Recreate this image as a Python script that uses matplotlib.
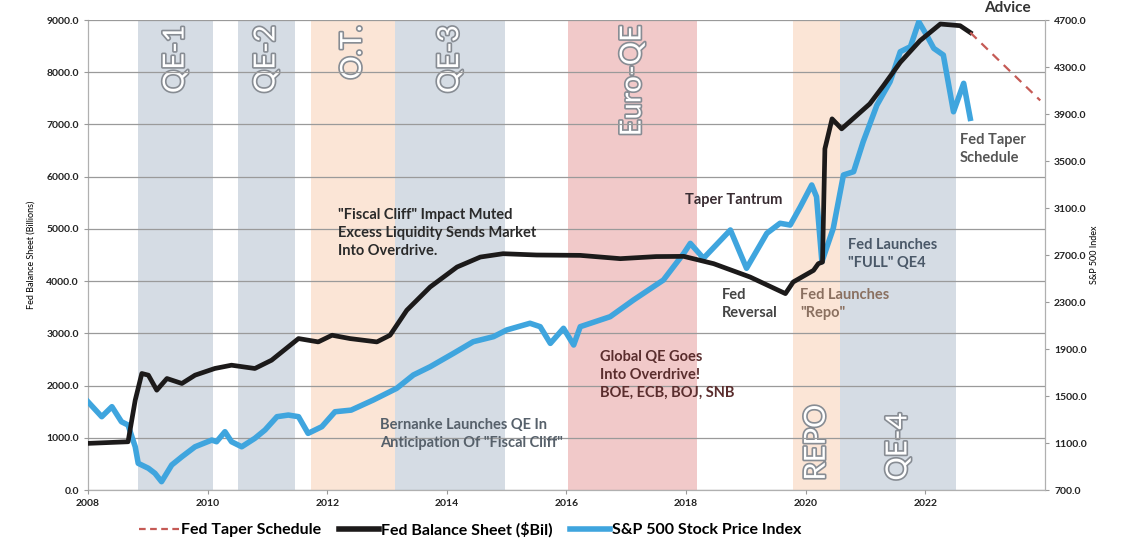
import numpy as np
import matplotlib
matplotlib.use('Agg')
import matplotlib.pyplot as plt
import matplotlib.patheffects as pe
from matplotlib.lines import Line2D

plt.rcParams['font.family'] = ['Lato', 'DejaVu Sans']
plt.rcParams['font.weight'] = 'bold'

# Fed balance sheet ($bil)
fed_year = [2008.0, 2008.67, 2008.79, 2008.90, 2009.01, 2009.15, 2009.32, 2009.57, 2009.79, 2010.12,
            2010.40, 2010.79, 2011.07, 2011.52, 2011.85, 2012.08, 2012.38, 2012.83, 2013.05, 2013.33,
            2013.72, 2014.17, 2014.56, 2014.94, 2015.5, 2016.23, 2016.90, 2017.5, 2017.96, 2018.46,
            2019.07, 2019.66, 2019.79, 2020.13, 2020.21, 2020.28, 2020.32, 2020.44, 2020.60, 2020.85,
            2021.07, 2021.30, 2021.58, 2021.91, 2022.25, 2022.58, 2022.75]
fed_bal = [893, 924, 1721, 2231, 2199, 1912, 2135, 2040, 2199, 2327,
           2390, 2327, 2486, 2900, 2836, 2964, 2900, 2836, 2964, 3442,
           3887, 4270, 4461, 4525, 4500, 4493, 4430, 4470, 4474, 4334,
           4078, 3761, 3983, 4206, 4334, 4365, 6533, 7107, 6916, 7170,
           7394, 7744, 8189, 8604, 8923, 8891, 8760]

# Fed taper schedule (projection)
taper_year = [2022.75, 2023.92]
taper_bal = [8760, 7460]

# S&P 500 index
spx_year = [2008.0, 2008.23, 2008.40, 2008.56, 2008.67, 2008.79, 2008.84, 2009.01, 2009.12, 2009.23,
            2009.40, 2009.57, 2009.79, 2010.07, 2010.15, 2010.29, 2010.40, 2010.57, 2010.79, 2010.96,
            2011.16, 2011.35, 2011.52, 2011.68, 2011.91, 2012.13, 2012.40, 2012.77, 2013.16, 2013.44,
            2013.72, 2014.11, 2014.44, 2014.78, 2015.0, 2015.39, 2015.56, 2015.73, 2015.95, 2016.12,
            2016.23, 2016.73, 2017.12, 2017.62, 2017.96, 2018.07, 2018.29, 2018.74, 2019.01, 2019.35,
            2019.57, 2019.74, 2019.91, 2020.10, 2020.18, 2020.27, 2020.46, 2020.63, 2020.80, 2020.96,
            2021.19, 2021.41, 2021.58, 2021.75, 2021.89, 2022.02, 2022.14, 2022.30, 2022.47, 2022.64,
            2022.75]
spx = [1451, 1324, 1409, 1281, 1253, 1068, 927, 885, 842, 771,
       913, 983, 1068, 1125, 1111, 1196, 1111, 1068, 1140, 1211,
       1324, 1338, 1324, 1182, 1239, 1366, 1380, 1466, 1565, 1679,
       1749, 1863, 1962, 2005, 2062, 2119, 2090, 1948, 2076, 1934,
       2090, 2175, 2317, 2487, 2714, 2799, 2672, 2913, 2587, 2885,
       2970, 2955, 3111, 3296, 3196, 2643, 2927, 3381, 3409, 3664,
       3976, 4175, 4430, 4473, 4685, 4572, 4459, 4402, 3919, 4161,
       3863]

# shaded policy periods
band_names = ['QE-1', 'QE-2', 'O.T.', 'QE-3', 'Euro-QE', 'REPO', 'QE-4']
band_start = [2008.84, 2010.51, 2011.73, 2013.13, 2016.03, 2019.79, 2020.58]
band_end = [2010.09, 2011.46, 2013.13, 2014.98, 2018.18, 2020.58, 2022.52]
band_colors = ['#d5dce4', '#d5dce4', '#fbe5d6', '#d5dce4', '#f1c9c9', '#fbe5d6', '#d5dce4']

fig = plt.figure(figsize=(11.25, 5.45), dpi=100)
ax = fig.add_axes([0.0782, 0.1009, 0.8507, 0.8624])
ax2 = ax.twinx()
ax.set_zorder(ax2.get_zorder() + 1)
ax.patch.set_visible(False)

for name, s, e, c in zip(band_names, band_start, band_end, band_colors):
    ax.axvspan(s, e, color=c, zorder=0, lw=0)
    mid = (s + e) / 2
    if name in ('REPO', 'QE-4'):
        y, va = 180, 'bottom'
    else:
        y, va = 8900, 'top'
    ax.text(mid, y, name, rotation=90, ha='center', va=va, fontsize=21, fontweight='normal',
            color='white', zorder=1,
            path_effects=[pe.withStroke(linewidth=2.4, foreground='#878c93')])

ax.set_xlim(2008, 2024)
ax.set_ylim(0, 9000)
ax.set_yticks(np.arange(0, 9001, 1000))
ax.set_yticklabels(['%.1f' % v for v in np.arange(0, 9001, 1000)], fontsize=7.5)
ax.set_xticks(range(2008, 2023, 2))
ax.set_xticklabels([str(y) for y in range(2008, 2023, 2)], fontsize=7.5)
ax.grid(axis='y', color='#9a9a9a', lw=0.9, zorder=0.5)
ax.set_axisbelow(False)
ax.set_ylabel('Fed Balance Sheet (Billions)', fontsize=6.5, labelpad=8)

ax2.set_ylim(700, 4700)
ax2.set_yticks(np.arange(700, 4701, 400))
ax2.set_yticklabels(['%.1f' % v for v in np.arange(700, 4701, 400)], fontsize=7.5)
ax2.set_ylabel('S&P 500 Index', fontsize=6.5, labelpad=2)

for a in (ax, ax2):
    for sp in a.spines.values():
        sp.set_color('#b0b0b0')
    a.spines['top'].set_visible(False)
    a.tick_params(colors='#222222', length=3, color='#9a9a9a')

# S&P drawn in the top axes but on the right-hand scale
ax.plot(spx_year, spx, color='#3fa5de', lw=4.0, zorder=3, solid_joinstyle='round',
        transform=ax2.transData)
ax.plot(fed_year, fed_bal, color='#1c1a1a', lw=3.4, zorder=4, solid_joinstyle='round')
ax.plot(taper_year, taper_bal, color='#c55a55', lw=1.6, ls=(0, (4, 3)), zorder=4)

# annotations
note = dict(fontsize=10.5, va='top', linespacing=1.35, zorder=5)
ax.text(2012.18, 5400, '"Fiscal Cliff" Impact Muted\nExcess Liquidity Sends Market\nInto Overdrive.',
        color='#2a2a2a', **note)
ax.text(2012.88, 1380, 'Bernanke Launches QE In\nAnticipation Of "Fiscal Cliff"',
        color='#56606a', **note)
ax.text(2016.56, 2680, 'Global QE Goes\nInto Overdrive!\nBOE, ECB, BOJ, SNB',
        color='#5a2d2d', **note)
ax.text(2017.98, 5680, 'Taper Tantrum', color='#3a2d33', **note)
ax.text(2018.6, 3860, 'Fed\nReversal', color='#444444', **note)
ax.text(2019.9, 3860, 'Fed Launches\n"Repo"', color='#8a7060', **note)
ax.text(2020.71, 4820, 'Fed Launches\n"FULL" QE4', color='#4a5868', **note)
ax.text(2022.58, 6830, 'Fed Taper\nSchedule', color='#555555', **note)

fig.text(0.875, 0.985, 'Advice', fontsize=11, color='#333333', va='center')

handles = [Line2D([], [], color='#c55a55', lw=1.6, ls=(0, (3, 2))),
           Line2D([], [], color='#1c1a1a', lw=4),
           Line2D([], [], color='#3fa5de', lw=4)]
fig.legend(handles, ['Fed Taper Schedule', 'Fed Balance Sheet ($Bil)', 'S&P 500 Stock Price Index'],
           loc='center', bbox_to_anchor=(0.418, 0.028), ncol=3, frameon=False, fontsize=11.5,
           handlelength=2.5, handletextpad=0.15, columnspacing=1.1)

fig.savefig('out.png', dpi=100)
